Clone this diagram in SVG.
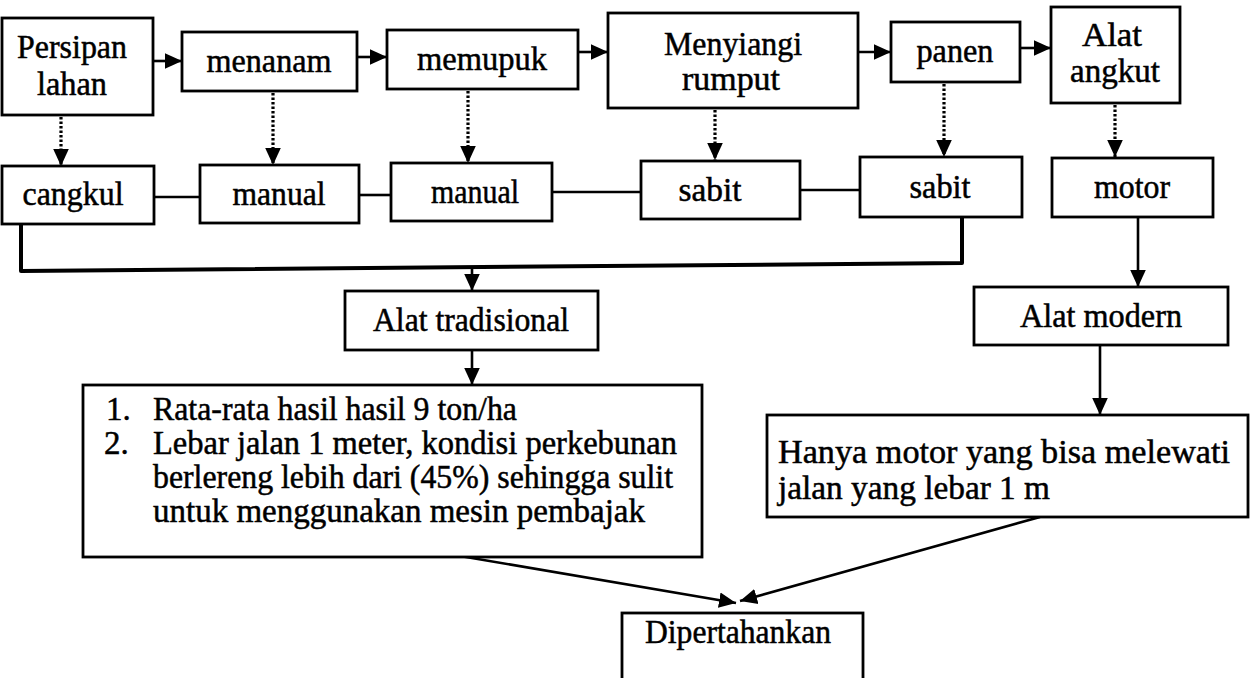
<svg xmlns="http://www.w3.org/2000/svg" width="1252" height="678" viewBox="0 0 1252 678">
<style>
.box{fill:#fff;stroke:#000;stroke-width:2.8}
.t{font-family:"Liberation Serif","Times New Roman",serif;font-size:33px;fill:#000;stroke:#000;stroke-width:0.5}
.c{text-anchor:middle}
.ln{stroke:#000;stroke-width:2.6;fill:none}
.dot{stroke:#000;stroke-width:3.2;stroke-dasharray:2.5 2;fill:none}
.thick{stroke:#000;stroke-width:4;fill:none;stroke-linejoin:round}
</style>
<defs>
<marker id="ah" viewBox="0 0 12 12" refX="12" refY="6" markerWidth="17" markerHeight="17" orient="auto" markerUnits="userSpaceOnUse">
<path d="M0,0.5 L12,6 L0,11.5 z" fill="#000"/>
</marker>
</defs>
<rect width="1252" height="678" fill="#fff"/>
<g id="connectors">
<line class="ln" x1="153" y1="61" x2="182" y2="61" marker-end="url(#ah)"/>
<line class="ln" x1="357" y1="57" x2="387" y2="57" marker-end="url(#ah)"/>
<line class="ln" x1="578" y1="52" x2="608" y2="52" marker-end="url(#ah)"/>
<line class="ln" x1="858" y1="52" x2="891" y2="52" marker-end="url(#ah)"/>
<line class="ln" x1="1020" y1="48" x2="1051" y2="48" marker-end="url(#ah)"/>
<line class="dot" x1="61" y1="117" x2="61" y2="166" marker-end="url(#ah)"/>
<line class="dot" x1="273" y1="93" x2="273" y2="165" marker-end="url(#ah)"/>
<line class="dot" x1="468" y1="91" x2="468" y2="163" marker-end="url(#ah)"/>
<line class="dot" x1="715" y1="110" x2="715" y2="160" marker-end="url(#ah)"/>
<line class="dot" x1="944" y1="84" x2="944" y2="157" marker-end="url(#ah)"/>
<line class="dot" x1="1115" y1="105" x2="1115" y2="157" marker-end="url(#ah)"/>
<line class="ln" x1="154" y1="197" x2="200" y2="197"/>
<line class="ln" x1="359" y1="195" x2="391" y2="195"/>
<line class="ln" x1="552" y1="192" x2="641" y2="192"/>
<line class="ln" x1="800" y1="190" x2="860" y2="190"/>
<path class="thick" d="M21,224 L21,271 L962,263 L962,217"/>
<line class="ln" x1="472" y1="267" x2="472" y2="291" marker-end="url(#ah)"/>
<line class="ln" x1="1138" y1="217" x2="1138" y2="287" marker-end="url(#ah)"/>
<line class="ln" x1="472" y1="350" x2="472" y2="385" marker-end="url(#ah)"/>
<line class="ln" x1="1100" y1="345" x2="1100" y2="415" marker-end="url(#ah)"/>
<line class="ln" x1="460" y1="556" x2="736" y2="603" marker-end="url(#ah)"/>
<line class="ln" x1="1040" y1="517" x2="740" y2="601" marker-end="url(#ah)"/>
</g>
<g id="n-persipan"><rect class="box" x="2" y="18" width="151" height="97"/><text class="t c" x="72" y="58" textLength="110" lengthAdjust="spacingAndGlyphs">Persipan</text><text class="t c" x="72" y="95" textLength="70" lengthAdjust="spacingAndGlyphs">lahan</text></g>
<g id="n-menanam"><rect class="box" x="182" y="32" width="175" height="59"/><text class="t c" x="269" y="72" textLength="125" lengthAdjust="spacingAndGlyphs">menanam</text></g>
<g id="n-memupuk"><rect class="box" x="387" y="30" width="191" height="59"/><text class="t c" x="482" y="70" textLength="130" lengthAdjust="spacingAndGlyphs">memupuk</text></g>
<g id="n-menyiangi"><rect class="box" x="608" y="13" width="250" height="95"/><text class="t c" x="733" y="55" textLength="138" lengthAdjust="spacingAndGlyphs">Menyiangi</text><text class="t c" x="731" y="90" textLength="98" lengthAdjust="spacingAndGlyphs">rumput</text></g>
<g id="n-panen"><rect class="box" x="891" y="22" width="129" height="60"/><text class="t c" x="955" y="62" textLength="77" lengthAdjust="spacingAndGlyphs">panen</text></g>
<g id="n-alatangkut"><rect class="box" x="1051" y="7" width="129" height="96"/><text class="t c" x="1112" y="46" textLength="60" lengthAdjust="spacingAndGlyphs">Alat</text><text class="t c" x="1115" y="82" textLength="90" lengthAdjust="spacingAndGlyphs">angkut</text></g>
<g id="n-cangkul"><rect class="box" x="2" y="166" width="152" height="58"/><text class="t c" x="73" y="205" textLength="101" lengthAdjust="spacingAndGlyphs">cangkul</text></g>
<g id="n-manual1"><rect class="box" x="200" y="165" width="159" height="58"/><text class="t c" x="279" y="205" textLength="93" lengthAdjust="spacingAndGlyphs">manual</text></g>
<g id="n-manual2"><rect class="box" x="391" y="163" width="161" height="58"/><text class="t c" x="475" y="203" textLength="88" lengthAdjust="spacingAndGlyphs">manual</text></g>
<g id="n-sabit1"><rect class="box" x="641" y="161" width="159" height="58"/><text class="t c" x="710" y="201" textLength="63" lengthAdjust="spacingAndGlyphs">sabit</text></g>
<g id="n-sabit2"><rect class="box" x="860" y="157" width="162" height="60"/><text class="t c" x="940" y="198" textLength="61" lengthAdjust="spacingAndGlyphs">sabit</text></g>
<g id="n-motor"><rect class="box" x="1052" y="158" width="161" height="59"/><text class="t c" x="1132" y="198" textLength="76" lengthAdjust="spacingAndGlyphs">motor</text></g>
<g id="n-tradisional"><rect class="box" x="345" y="291" width="253" height="59"/><text class="t c" x="471" y="331" textLength="196" lengthAdjust="spacingAndGlyphs">Alat tradisional</text></g>
<g id="n-modern"><rect class="box" x="974" y="287" width="254" height="58"/><text class="t c" x="1101" y="327" textLength="162" lengthAdjust="spacingAndGlyphs">Alat modern</text></g>
<g id="n-list"><rect class="box" x="83" y="385" width="619" height="172"/>
<text class="t" x="106" y="420">1.</text><text class="t" x="153" y="420" textLength="364" lengthAdjust="spacingAndGlyphs">Rata-rata hasil hasil 9 ton/ha</text>
<text class="t" x="104" y="454">2.</text><text class="t" x="153" y="454" textLength="524" lengthAdjust="spacingAndGlyphs">Lebar jalan 1 meter, kondisi perkebunan</text>
<text class="t" x="153" y="488" textLength="520" lengthAdjust="spacingAndGlyphs">berlereng lebih dari (45%) sehingga sulit</text>
<text class="t" x="153" y="522" textLength="492" lengthAdjust="spacingAndGlyphs">untuk menggunakan mesin pembajak</text></g>
<g id="n-hanya"><rect class="box" x="767" y="415" width="481" height="102"/>
<text class="t" x="778" y="463" textLength="452" lengthAdjust="spacingAndGlyphs">Hanya motor yang bisa melewati</text>
<text class="t" x="778" y="499" textLength="272" lengthAdjust="spacingAndGlyphs">jalan yang lebar 1 m</text></g>
<g id="n-dipertahankan"><rect class="box" x="622" y="613" width="241" height="80"/><text class="t" x="645" y="643" textLength="186" lengthAdjust="spacingAndGlyphs">Dipertahankan</text></g>
</svg>
